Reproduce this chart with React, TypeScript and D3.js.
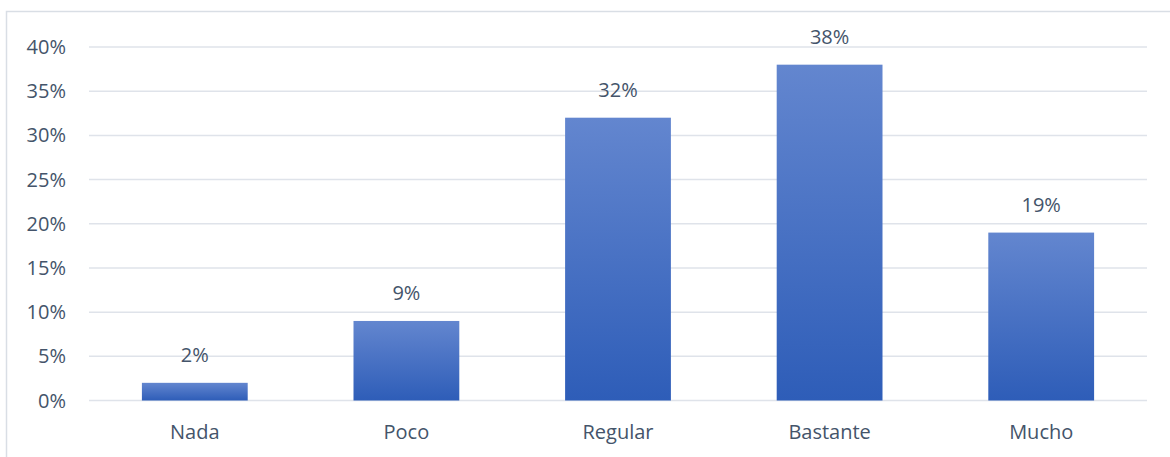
import React from "react";
import * as d3 from "d3";

const categories = ["Nada", "Poco", "Regular", "Bastante", "Mucho"];
const values = [2, 9, 32, 38, 19];
const yTicks = [0, 5, 10, 15, 20, 25, 30, 35, 40];

export default function App() {
  const W = 1170, H = 457;
  const left = 89, right = 1147, top = 47, bottom = 400.5;
  const x = d3.scaleBand<string>().domain(categories).range([left, right]).paddingInner(0.5).paddingOuter(0.25);
  const y = d3.scaleLinear().domain([0, 40]).range([bottom, top]);
  const font = "'Open Sans', sans-serif";
  const textColor = "#44546a";
  const fs = 20;
  return (
    <svg width={W} height={H} style={{ position: "absolute", left: 0, top: 0, background: "#fff" }}>
      <defs>
        <linearGradient id="barGrad" x1="0" y1="0" x2="0" y2="1">
          <stop offset="0%" stopColor="#6386cf" />
          <stop offset="100%" stopColor="#2e5db8" />
        </linearGradient>
      </defs>
      <rect x={6.5} y={11.5} width={1200} height={500} fill="#fff" stroke="#d9dee5" strokeWidth={1.5} />
      {yTicks.map((t) => (
        <g key={t}>
          <line x1={left} x2={right} y1={y(t)} y2={y(t)} stroke="#dfe3ea" strokeWidth={1.5} />
          <text x={66} y={y(t)} dy="0.35em" textAnchor="end" fontFamily={font} fontSize={fs} fill={textColor}>
            {t}%
          </text>
        </g>
      ))}
      {categories.map((c, i) => (
        <g key={c}>
          <rect x={x(c)} y={y(values[i])} width={x.bandwidth()} height={y(0) - y(values[i])} fill="url(#barGrad)" />
          <text x={(x(c) as number) + x.bandwidth() / 2} y={y(values[i]) - 21} textAnchor="middle" fontFamily={font} fontSize={fs} fill={textColor}>
            {values[i]}%
          </text>
          <text x={(x(c) as number) + x.bandwidth() / 2} y={439} textAnchor="middle" fontFamily={font} fontSize={fs} fill={textColor}>
            {c}
          </text>
        </g>
      ))}
    </svg>
  );
}
